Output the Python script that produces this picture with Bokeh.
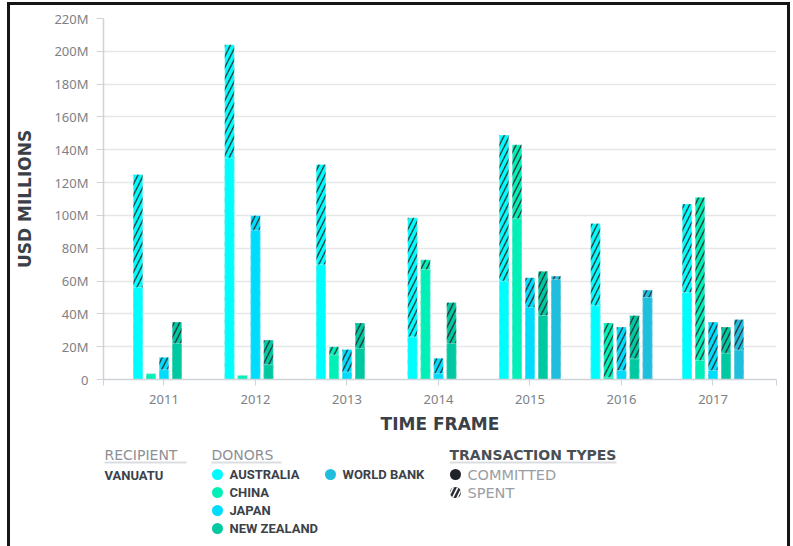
from bokeh.plotting import figure
from bokeh.layouts import column
from bokeh.models import Range1d, FixedTicker, ColumnDataSource
from bokeh.core.properties import value
from bokeh.embed import file_html
from bokeh.resources import INLINE

# ---------------------------------------------------------------- data
years = ["2011", "2012", "2013", "2014", "2015", "2016", "2017"]
donors = ["AUSTRALIA", "CHINA", "JAPAN", "NEW ZEALAND", "WORLD BANK"]
donor_colors = ["#00fdfd", "#00f0b8", "#00dcfc", "#00c9a2", "#1fbedd"]

# USD millions; solid part = committed, hatched part reaches the spent total
australia_committed = [56, 135, 70, 26, 60, 45, 53]
australia_spent = [125, 204, 131, 98.5, 149, 95, 107]
china_committed = [3.5, 2.4, 15, 67, 98, 1.4, 11.6]
china_spent = [3.5, 2.4, 20, 73, 143, 34.5, 111]
japan_committed = [6, 91, 4.6, 3.6, 44, 5.5, 5.5]
japan_spent = [13.5, 100, 18.3, 13, 62, 32, 35]
nz_committed = [22, 9, 19, 22, 39, 12.6, 16]
nz_spent = [35, 24, 34.5, 47, 66, 39, 32]
wb_committed = [0, 0, 0, 0, 61, 50, 18]
wb_spent = [0, 0, 0, 0, 63, 54.5, 36.5]

committed = [australia_committed, china_committed, japan_committed, nz_committed, wb_committed]
spent = [australia_spent, china_spent, japan_spent, nz_spent, wb_spent]

y_ticks = [0, 20, 40, 60, 80, 100, 120, 140, 160, 180, 200, 220]
y_labels = ["0", "20M", "40M", "60M", "80M", "100M", "120M", "140M", "160M", "180M", "200M", "220M"]

recipient = "VANUATU"

# ---------------------------------------------------------------- styles
AXIS_GRAY = "#cfd2d6"
TICK_TEXT = "#7d8186"
TITLE_TEXT = "#3b4046"
BAR_STEP = 0.142
BAR_WIDTH = 0.105
X_START, X_END = -0.661, 6.694

p = figure(width=777, height=435,
           x_range=Range1d(X_START, X_END), y_range=Range1d(0, 220),
           toolbar_location=None, output_backend="svg",
           min_border_left=93, min_border_right=11,
           min_border_top=13, min_border_bottom=61)
p.outline_line_color = None
p.background_fill_color = "white"
p.border_fill_color = "white"

for j, color in enumerate(donor_colors):
    xs = [i + (j - 2) * BAR_STEP for i in range(len(years))]
    src = ColumnDataSource(dict(x=xs, committed=committed[j], spent=spent[j]))
    # spent total, hatched
    p.vbar(x="x", top="spent", width=BAR_WIDTH, source=src,
           fill_color=color, line_color="white", line_alpha=0.35, line_width=1,
           hatch_pattern="/", hatch_color="#26292e", hatch_alpha=0.85,
           hatch_scale=11, hatch_weight=1.5)
    # committed part drawn solid over it
    p.vbar(x="x", top="committed", width=BAR_WIDTH, source=src,
           fill_color=color, line_color="white", line_alpha=0.35, line_width=1)

# y axis
p.yaxis.ticker = FixedTicker(ticks=y_ticks)
p.yaxis.major_label_overrides = {t: lab for t, lab in zip(y_ticks, y_labels)}
p.yaxis.minor_tick_line_color = None
p.yaxis.major_tick_out = 7
p.yaxis.major_tick_in = 0
p.yaxis.major_tick_line_color = AXIS_GRAY
p.yaxis.axis_line_color = AXIS_GRAY
p.yaxis.axis_line_width = 1.5
p.yaxis.major_label_standoff = 8
p.yaxis.major_label_text_font = "Noto Sans"
p.yaxis.major_label_text_font_size = "13px"
p.yaxis.major_label_text_color = TICK_TEXT
p.yaxis.axis_label = "USD MILLIONS"
p.yaxis.axis_label_text_font = "DejaVu Sans"
p.yaxis.axis_label_text_font_style = "bold"
p.yaxis.axis_label_text_font_size = "17px"
p.yaxis.axis_label_text_color = TITLE_TEXT
p.yaxis.axis_label_standoff = 16

# x axis
x_ticks = [X_START] + list(range(len(years))) + [X_END]
x_over = {X_START: "", X_END: ""}
x_over.update({i: y for i, y in enumerate(years)})
p.xaxis.ticker = FixedTicker(ticks=x_ticks)
p.xaxis.major_label_overrides = x_over
p.xaxis.minor_tick_line_color = None
p.xaxis.major_tick_out = 6
p.xaxis.major_tick_in = 0
p.xaxis.major_tick_line_color = AXIS_GRAY
p.xaxis.axis_line_color = AXIS_GRAY
p.xaxis.axis_line_width = 1.5
p.xaxis.major_label_standoff = 9
p.xaxis.major_label_text_font = "Noto Sans"
p.xaxis.major_label_text_font_size = "13px"
p.xaxis.major_label_text_color = TICK_TEXT
p.xaxis.axis_label = "TIME FRAME"
p.xaxis.axis_label_text_font = "DejaVu Sans"
p.xaxis.axis_label_text_font_style = "bold"
p.xaxis.axis_label_text_font_size = "17px"
p.xaxis.axis_label_text_color = TITLE_TEXT
p.xaxis.axis_label_standoff = 7

p.xgrid.visible = False
p.ygrid.ticker = FixedTicker(ticks=y_ticks)
p.ygrid.grid_line_color = "#e6e7e9"
p.ygrid.grid_line_width = 1.5

# ---------------------------------------------------------------- key panel
# frame shares the chart's left/right edges; ranges are given in page pixels
leg = figure(width=777, height=106, x_range=Range1d(103, 776), y_range=Range1d(546, 440),
             toolbar_location=None, output_backend="svg",
             x_axis_location=None, y_axis_location=None,
             min_border_left=93, min_border_right=11, min_border_top=0, min_border_bottom=0)
leg.grid.visible = False
leg.outline_line_color = None

head_font = value("DejaVu Sans")
narrow_font = value("'Liberation Sans Narrow', Roboto")

# section headings
leg.text(x=[104, 211], y=[454, 454], text=["RECIPIENT", "DONORS"],
         text_font=head_font, text_font_size="14px", text_color="#8c9096",
         text_baseline="middle", text_align="left")
leg.text(x=[449], y=[454], text=["TRANSACTION TYPES"],
         text_font=head_font, text_font_size="14px", text_font_style="bold",
         text_color="#4a4f55", text_baseline="middle", text_align="left")
leg.segment(x0=[104, 211, 449], y0=[462, 462, 462], x1=[186, 281, 616], y1=[462, 462, 462],
            line_color="#dcdde0", line_width=2)

# recipient
leg.text(x=[104], y=[475], text=[recipient], text_font=narrow_font,
         text_font_size="13px", text_font_style="bold", text_color="#3c4149",
         text_baseline="middle", text_align="left")

# donors key
key_x = [217, 217, 217, 217, 330]
key_y = [474, 492, 510, 528, 474]
leg.scatter(x=key_x, y=key_y, size=11, marker="circle",
            fill_color=donor_colors, line_color=None)
leg.text(x=[kx + 12 for kx in key_x], y=key_y, text=donors, text_font=narrow_font,
         text_font_size="13px", text_font_style="bold", text_color="#3c4149",
         text_baseline="middle", text_align="left")

# transaction types key
leg.scatter(x=[455], y=[474], size=11, marker="circle", fill_color="#1f2228", line_color=None)
leg.scatter(x=[455], y=[492], size=11, marker="circle", fill_color="#2a2d33", line_color=None,
            hatch_pattern="/", hatch_color="white", hatch_scale=9, hatch_weight=1.6)
leg.text(x=[467, 467], y=[474, 492], text=["COMMITTED", "SPENT"], text_font=head_font,
         text_font_size="14.5px", text_color="#9a9ea4",
         text_baseline="middle", text_align="left")

layout = column(p, leg, spacing=0, margin=(2, 0, 0, 7),
                styles={"border-top": "3px solid #151515",
                        "border-left": "3px solid #151515",
                        "border-right": "3px solid #151515",
                        "background": "white"})

open("out.html", "w").write(file_html(layout, INLINE))
